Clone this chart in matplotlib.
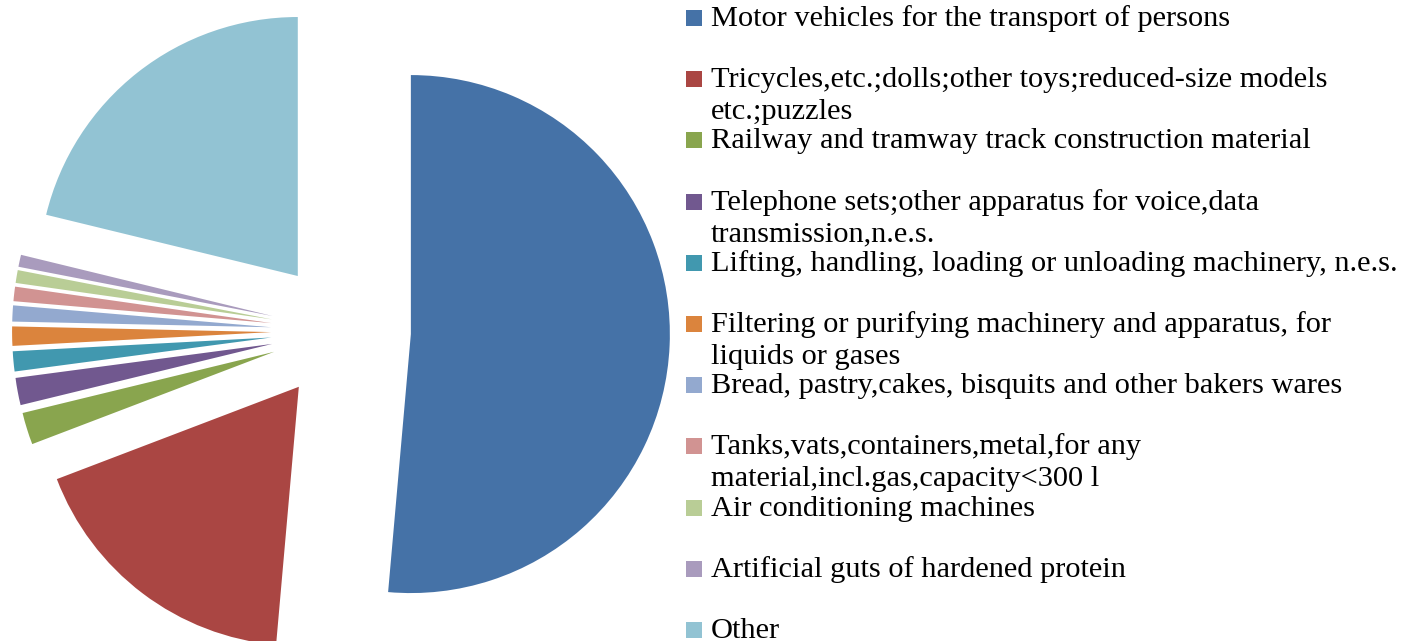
import matplotlib.pyplot as plt
from matplotlib.patches import Rectangle

# share of each product group (percent)
labels = [
    "Motor vehicles for the transport of persons",
    "Tricycles,etc.;dolls;other toys;reduced-size models\netc.;puzzles",
    "Railway and tramway track construction material",
    "Telephone sets;other apparatus for voice,data\ntransmission,n.e.s.",
    "Lifting, handling, loading or unloading machinery, n.e.s.",
    "Filtering or purifying machinery and apparatus, for\nliquids or gases",
    "Bread, pastry,cakes, bisquits and other bakers wares",
    "Tanks,vats,containers,metal,for any\nmaterial,incl.gas,capacity<300 l",
    "Air conditioning machines",
    "Artificial guts of hardened protein",
    "Other",
]
shares = [51.4, 17.8, 2.0, 1.7, 1.25, 1.2, 1.0, 0.9, 0.8, 0.75, 21.2]
colors = ["#4572A7", "#AA4643", "#89A54E", "#71588F", "#4198AF", "#DB843D",
          "#93A9CF", "#D19392", "#B9CD96", "#A99BBD", "#92C3D3"]

W, H = 1403, 641
fig = plt.figure(figsize=(W / 100, H / 100), dpi=100)

# pie axes: one data unit = pie radius (260 px), centre at (341, 331) px from top-left
R = 259.0
cx, cy = 341.0, 331.0
ax_w = 680.0
ax = fig.add_axes([0, 0, ax_w / W, 1])

ax.pie(shares, colors=colors, startangle=90, counterclock=False,
       explode=[0.27] * len(shares), radius=1.0,
       wedgeprops=dict(linewidth=0))
ax.set_xlim(-cx / R, (ax_w - cx) / R)
ax.set_ylim(-(H - cy) / R, cy / R)
ax.axis("off")

# legend drawn by hand on the right
fs = 21.9
step = 61.2
line_gap = 32
for k, (lab, col) in enumerate(zip(labels, colors)):
    base = 26 + step * k
    fig.patches.append(Rectangle((686 / W, 1 - base / H), 16 / W, 16 / H,
                                 transform=fig.transFigure, color=col, lw=0))
    for i, line in enumerate(lab.split("\n")):
        fig.text(711 / W, 1 - (base + i * line_gap) / H, line,
                 fontsize=fs, family="Liberation Serif", va="baseline", ha="left")

fig.savefig("out.png", dpi=100)
